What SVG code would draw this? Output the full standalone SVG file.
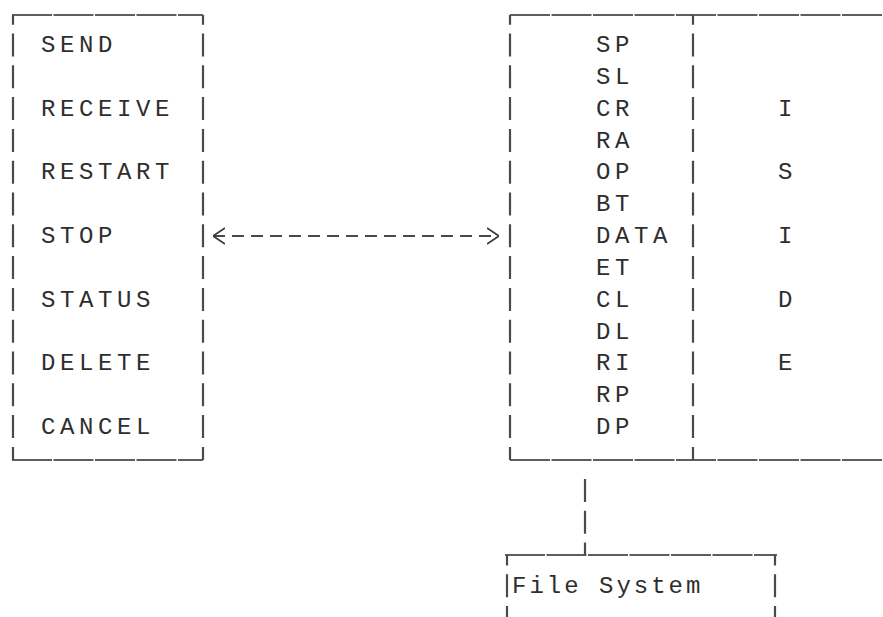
<svg xmlns="http://www.w3.org/2000/svg" width="883" height="617" viewBox="0 0 883 617">
<style>
  .t { font-family: "Liberation Mono", "DejaVu Sans Mono", monospace; font-size: 24px; fill: #2e2e2e; letter-spacing: 4.6px; }
  .fs { letter-spacing: 3px; }
  .h { stroke: #5e5e5e; stroke-width: 2; fill: none; stroke-dasharray: 40 1.5; }
  .v { stroke: #4a4a4a; stroke-width: 2.2; fill: none; stroke-dasharray: 23 8.8; }
  .c { stroke: #4a4a4a; stroke-width: 2; fill: none; }
</style>
<defs>
  <marker id="chev" viewBox="0 0 12 18" refX="12" refY="9" markerWidth="12" markerHeight="18" markerUnits="userSpaceOnUse" orient="auto-start-reverse">
    <path d="M0,1 L12,9 L0,17" fill="none" stroke="#3a3a3a" stroke-width="1.8"/>
  </marker>
</defs>
<rect width="883" height="617" fill="#ffffff"/>

<g id="commands">
  <line class="h" x1="12" y1="15" x2="203" y2="15"/>
  <line class="h" x1="12" y1="460" x2="203" y2="460"/>
  <line class="v" x1="13" y1="15" x2="13" y2="460" stroke-dashoffset="13.3"/>
  <line class="v" x1="203" y1="15" x2="203" y2="460" stroke-dashoffset="13.3"/>
  <text class="t" x="41" y="52">SEND</text>
  <text class="t" x="41" y="116">RECEIVE</text>
  <text class="t" x="41" y="179">RESTART</text>
  <text class="t" x="41" y="243">STOP</text>
  <text class="t" x="41" y="307">STATUS</text>
  <text class="t" x="41" y="370">DELETE</text>
  <text class="t" x="41" y="434">CANCEL</text>
</g>

<g id="protocol">
  <line class="h" x1="510" y1="15" x2="883" y2="15"/>
  <line class="h" x1="510" y1="460" x2="883" y2="460"/>
  <line class="v" x1="510" y1="15" x2="510" y2="460" stroke-dashoffset="13.3"/>
  <line class="v" x1="693" y1="15" x2="693" y2="460" stroke-dashoffset="13.3"/>
  <text class="t" x="596" y="52">SP</text>
  <text class="t" x="596" y="84">SL</text>
  <text class="t" x="596" y="116">CR</text>
  <text class="t" x="596" y="148">RA</text>
  <text class="t" x="596" y="179">OP</text>
  <text class="t" x="596" y="211">BT</text>
  <text class="t" x="596" y="243">DATA</text>
  <text class="t" x="596" y="275">ET</text>
  <text class="t" x="596" y="307">CL</text>
  <text class="t" x="596" y="339">DL</text>
  <text class="t" x="596" y="370">RI</text>
  <text class="t" x="596" y="402">RP</text>
  <text class="t" x="596" y="434">DP</text>
</g>

<g id="iside">
  <text class="t" x="778" y="116">I</text>
  <text class="t" x="778" y="179">S</text>
  <text class="t" x="778" y="243">I</text>
  <text class="t" x="778" y="307">D</text>
  <text class="t" x="778" y="370">E</text>
</g>

<g id="filesystem">
  <line class="h" x1="505" y1="555" x2="777" y2="555"/>
  <line class="v" x1="507" y1="555" x2="507" y2="617" stroke-dashoffset="12.5"/>
  <line class="v" x1="775" y1="555" x2="775" y2="617" stroke-dashoffset="12.5"/>
  <text class="t fs" x="512" y="593">File System</text>
</g>

<g id="connectors">
  <line class="c" x1="213" y1="236" x2="499" y2="236" stroke-dasharray="12 7" marker-start="url(#chev)" marker-end="url(#chev)"/>
  <line class="v" x1="585" y1="479" x2="585" y2="555"/>
</g>
</svg>
